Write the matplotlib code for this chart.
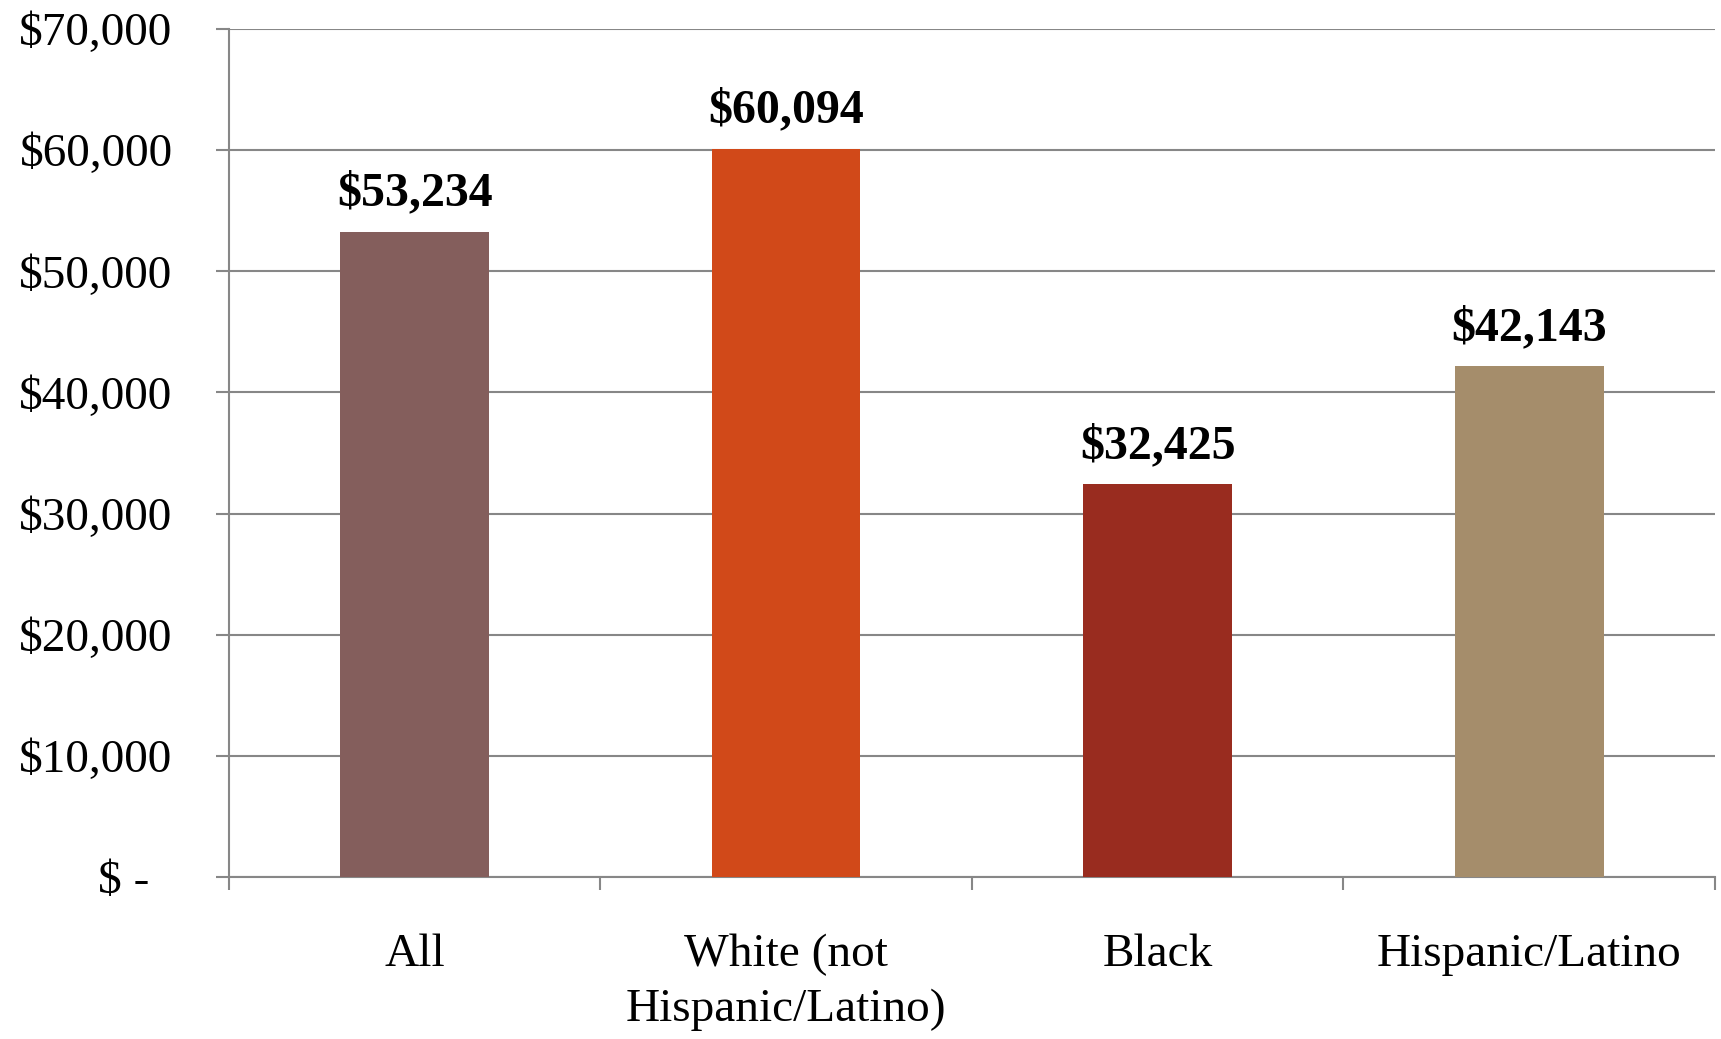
import matplotlib.pyplot as plt
from matplotlib.ticker import FixedLocator

# Median household income by race / ethnicity
categories = ['All', 'White (not\nHispanic/Latino)', 'Black', 'Hispanic/Latino']
incomes = [53234, 60094, 32425, 42143]
bar_colors = ['#845E5C', '#D14919', '#992C1F', '#A58D6B']
y_ticks = [0, 10000, 20000, 30000, 40000, 50000, 60000, 70000]
y_tick_labels = ['$ -  ', '$10,000', '$20,000', '$30,000', '$40,000',
                 '$50,000', '$60,000', '$70,000']

plt.rcParams['font.family'] = ['Liberation Serif', 'DejaVu Serif']
grid_gray = '#878787'

fig = plt.figure(figsize=(17.21, 10.39), dpi=100)
ax = fig.add_axes([0.133, 0.156, 0.8635, 0.816])

x = list(range(len(categories)))
ax.bar(x, incomes, width=0.4, color=bar_colors, zorder=3)

for xi, v in zip(x, incomes):
    ax.annotate(f'${v:,}', (xi, v), xytext=(0, 19), textcoords='offset points',
                ha='center', va='baseline', fontsize=34.5, fontweight='bold')

ax.set_xlim(-0.5, len(categories) - 0.5)
ax.set_ylim(0, 70000)

ax.set_yticks(y_ticks)
ax.set_yticklabels(y_tick_labels)
ax.yaxis.grid(True, color=grid_gray, linewidth=1.5, zorder=0)
ax.tick_params(axis='y', length=9.5, width=1.5, color=grid_gray,
               labelsize=34, pad=31)

ax.set_xticks(x)
ax.set_xticklabels(categories, linespacing=1.38)
ax.xaxis.set_minor_locator(FixedLocator([i - 0.5 for i in range(len(categories) + 1)]))
ax.tick_params(axis='x', which='major', length=0, labelsize=34, pad=41)
ax.tick_params(axis='x', which='minor', length=9.5, width=1.5, color=grid_gray)

for side in ['top', 'right']:
    ax.spines[side].set_visible(False)
for side in ['left', 'bottom']:
    ax.spines[side].set_color(grid_gray)
    ax.spines[side].set_linewidth(1.5)

plt.savefig('out.png', dpi=100)
